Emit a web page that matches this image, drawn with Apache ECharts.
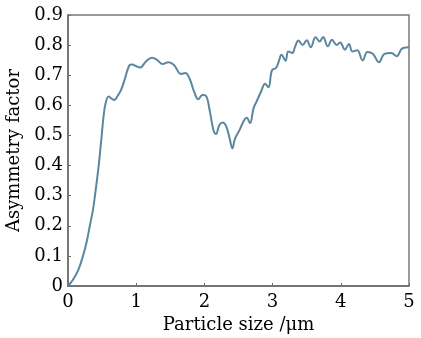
<!DOCTYPE html>
<html><head><meta charset="utf-8">
<script src="https://cdn.jsdelivr.net/npm/echarts@6/dist/echarts.min.js"></script>
<style>html,body{margin:0;padding:0;background:#fff}#c{width:421px;height:338px}</style>
</head><body><div id="c"></div>
<script>
const particleSize = [0,0.07,0.15,0.22,0.28,0.32,0.366,0.395,0.45,0.49,0.52,0.55,0.595,0.64,0.68,0.73,0.78,0.83,0.9,0.94,1.0,1.06,1.14,1.23,1.3,1.39,1.47,1.55,1.66,1.72,1.78,1.85,1.91,1.97,2.02,2.08,2.13,2.17,2.22,2.27,2.32,2.37,2.41,2.45,2.52,2.58,2.62,2.67,2.72,2.77,2.83,2.89,2.94,2.99,3.05,3.09,3.13,3.19,3.23,3.29,3.33,3.38,3.44,3.5,3.56,3.63,3.69,3.74,3.81,3.87,3.94,3.99,4.06,4.12,4.17,4.24,4.32,4.39,4.47,4.56,4.64,4.74,4.82,4.89,4.95,5.0];
const asymmetry = [0,0.02,0.053,0.1,0.153,0.2,0.253,0.3,0.4,0.49,0.56,0.605,0.629,0.622,0.618,0.632,0.652,0.685,0.733,0.736,0.73,0.726,0.745,0.758,0.752,0.737,0.743,0.735,0.704,0.707,0.69,0.645,0.62,0.634,0.632,0.58,0.52,0.505,0.535,0.543,0.53,0.49,0.457,0.49,0.52,0.55,0.559,0.541,0.59,0.615,0.645,0.672,0.66,0.716,0.724,0.745,0.768,0.748,0.779,0.774,0.795,0.815,0.8,0.816,0.793,0.826,0.812,0.827,0.796,0.818,0.8,0.809,0.785,0.804,0.779,0.783,0.749,0.777,0.771,0.743,0.771,0.774,0.763,0.787,0.792,0.793];
const xTicks = [0,1,2,3,4,5];
const yTicks = [0,0.1,0.2,0.3,0.4,0.5,0.6,0.7,0.8,0.9];
const xName = 'Particle size /μm';
const yName = 'Asymmetry factor';

const font = 'DejaVu Serif';
const chart = echarts.init(document.getElementById('c'), null, {renderer:'canvas'});
chart.setOption({
  animation:false,
  grid:{left:68,right:12,top:15,bottom:52,containLabel:false,outerBoundsMode:'none',
    show:true,borderColor:'#7a7a7a',borderWidth:1.5},
  xAxis:{type:'value',min:xTicks[0],max:xTicks[xTicks.length-1],interval:1,
    name:xName,nameLocation:'middle',nameGap:30,
    nameTextStyle:{fontFamily:font,fontSize:18,color:'#000'},
    axisLine:{lineStyle:{color:'#6b6b6b',width:1.5}},
    axisTick:{inside:true,length:3,lineStyle:{color:'#6b6b6b'}},
    axisLabel:{fontFamily:font,fontSize:18,color:'#000',margin:7},
    splitLine:{show:false}},
  yAxis:{type:'value',min:yTicks[0],max:yTicks[yTicks.length-1],interval:0.1,
    name:yName,nameLocation:'middle',nameGap:41,
    nameTextStyle:{fontFamily:font,fontSize:18,color:'#000'},
    axisLine:{lineStyle:{color:'#6b6b6b',width:1.5}},
    axisTick:{inside:true,length:3,lineStyle:{color:'#6b6b6b'}},
    axisLabel:{fontFamily:font,fontSize:18,color:'#000',margin:5,
      formatter:v=>v===0?'0':v.toFixed(1)},
    splitLine:{show:false}},
  series:[{type:'line',data:particleSize.map((x,i)=>[x,asymmetry[i]]),
    smooth:0.4,showSymbol:false,lineStyle:{color:'#5a879e',width:2}}]
});
</script></body></html>
